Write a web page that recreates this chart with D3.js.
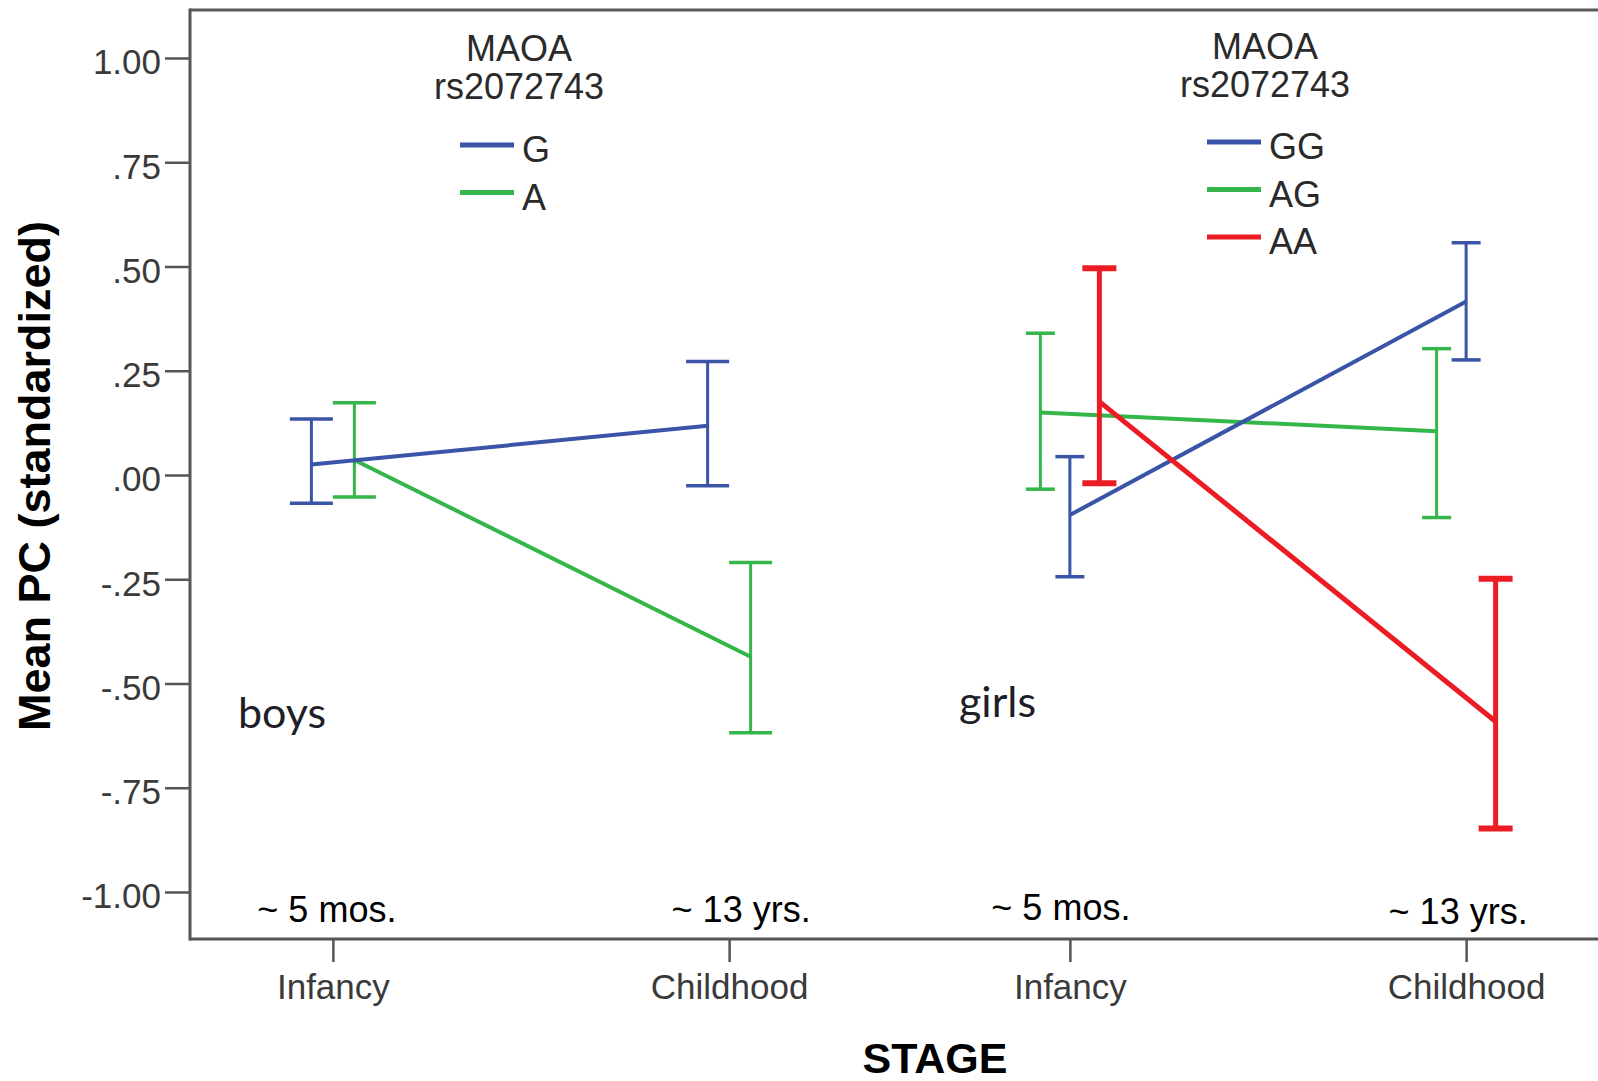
<!DOCTYPE html>
<html>
<head>
<meta charset="utf-8">
<script src="https://cdn.jsdelivr.net/npm/d3@7"></script>
<style>
  body { margin: 0; background: #fff; }
  svg { display: block; }
</style>
</head>
<body>
<script>
var w = 1598;
var h = 1081;

// categories
var panels = ["boys", "girls"];
var stages = ["Infancy", "Childhood"];
var ageLabels = ["~ 5 mos.", "~ 13 yrs."];
var yTicks = [1, 0.75, 0.5, 0.25, 0, -0.25, -0.5, -0.75, -1];
var boysGenotypes = ["G", "A"];          // plotted left -> right
var girlsGenotypes = ["AG", "GG", "AA"]; // plotted left -> right
var girlsLegend = ["GG", "AG", "AA"];

// means and error bar ends, [Infancy, Childhood]
var boysGMean = [0.025, 0.118];
var boysGLow = [-0.068, -0.026];
var boysGHigh = [0.134, 0.272];

var boysAMean = [0.036, -0.436];
var boysALow = [-0.053, -0.618];
var boysAHigh = [0.173, -0.21];

var girlsGGMean = [-0.096, 0.416];
var girlsGGLow = [-0.244, 0.276];
var girlsGGHigh = [0.044, 0.557];

var girlsAGMean = [0.150, 0.105];
var girlsAGLow = [-0.034, -0.102];
var girlsAGHigh = [0.34, 0.303];

var girlsAAMean = [0.176, -0.591];
var girlsAALow = [-0.02, -0.848];
var girlsAAHigh = [0.496, -0.249];

var series = [
    {panel: "boys", key: "A", mean: boysAMean, low: boysALow, high: boysAHigh},
    {panel: "boys", key: "G", mean: boysGMean, low: boysGLow, high: boysGHigh},
    {panel: "girls", key: "AG", mean: girlsAGMean, low: girlsAGLow, high: girlsAGHigh},
    {panel: "girls", key: "GG", mean: girlsGGMean, low: girlsGGLow, high: girlsGGHigh},
    {panel: "girls", key: "AA", mean: girlsAAMean, low: girlsAALow, high: girlsAAHigh}
];

var colors = {G: "#3a54a7", GG: "#3a54a7", A: "#34b64b", AG: "#34b64b", AA: "#ec1c24"};
var font = "'Liberation Sans', Arial, sans-serif";

var svg = d3.select("body").append("svg")
    .attr("width", w)
    .attr("height", h);

var plotLeft = 190, plotTop = 10, plotBottom = 939;

var y = d3.scaleLinear()
    .domain([-1, 1])
    .range([892, 58]);

var xPanel = d3.scaleBand()
    .domain(panels)
    .range([162.5, 1636.5]);

var xStage = d3.scalePoint()
    .domain(stages)
    .range([0, xPanel.bandwidth()])
    .padding(0.43);

var dodge = {
    boys: d3.scalePoint().domain(boysGenotypes).range([-21.5, 21.5]),
    girls: d3.scalePoint().domain(girlsGenotypes).range([-29.5, 29.5])
};
var capHalf = {boys: 21.5, girls: 14.5};

function xAt(panel, stage, key) {
    return xPanel(panel) + xStage(stage) + dodge[panel](key);
}

// frame
svg.append("line")
    .attr("x1", plotLeft).attr("x2", w)
    .attr("y1", plotTop).attr("y2", plotTop)
    .attr("stroke", "#5a5a5a").attr("stroke-width", 3);
svg.append("line")
    .attr("x1", plotLeft).attr("x2", w)
    .attr("y1", plotBottom).attr("y2", plotBottom)
    .attr("stroke", "#555").attr("stroke-width", 3);
svg.append("line")
    .attr("x1", plotLeft).attr("x2", plotLeft)
    .attr("y1", plotTop - 1.5).attr("y2", plotBottom + 1.5)
    .attr("stroke", "#555").attr("stroke-width", 3);

// y axis
var yAxis = d3.axisLeft(y)
    .tickValues(yTicks)
    .tickSize(25)
    .tickSizeOuter(0)
    .tickPadding(4)
    .tickFormat(function(d) {
        var s = d3.format(".2f")(d).replace("\u2212", "-");
        return Math.abs(d) < 1 ? s.replace("0.", ".") : s;
    });

var gy = svg.append("g")
    .attr("transform", "translate(" + plotLeft + ",0)")
    .call(yAxis);
gy.select(".domain").remove();
gy.selectAll(".tick line").attr("stroke", "#555").attr("stroke-width", 2.5);
gy.selectAll(".tick text")
    .attr("dy", "0.45em")
    .attr("fill", "#3a3a3a")
    .style("font-family", font)
    .style("font-size", "35px");

// x axes, one per panel
panels.forEach(function(p) {
    var gx = svg.append("g")
        .attr("transform", "translate(" + xPanel(p) + "," + plotBottom + ")")
        .call(d3.axisBottom(xStage).tickSize(23).tickSizeOuter(0).tickPadding(12));
    gx.select(".domain").remove();
    gx.selectAll(".tick line").attr("stroke", "#555").attr("stroke-width", 2.5);
    gx.selectAll(".tick text")
        .attr("fill", "#3a3a3a")
        .style("font-family", font)
        .style("font-size", "35px");
});

// age notes above the x axis
var ageDx = {boys: [-6, 12], girls: [-9, -8]};
var ageY = {boys: [922, 922], girls: [920, 924]};
panels.forEach(function(p) {
    svg.selectAll(null)
        .data(stages)
        .enter()
        .append("text")
        .text(function(d, i) { return ageLabels[i]; })
        .attr("x", function(d, i) { return xPanel(p) + xStage(d) + ageDx[p][i]; })
        .attr("y", function(d, i) { return ageY[p][i]; })
        .attr("text-anchor", "middle")
        .attr("font-family", font)
        .attr("font-size", "36px")
        .attr("fill", "#000");
});

// series: lines and error bars
var line = d3.line()
    .x(function(d) { return d.x; })
    .y(function(d) { return y(d.mean); });

series.forEach(function(s) {
    var pts = stages.map(function(st, i) {
        return {x: xAt(s.panel, st, s.key), mean: s.mean[i], low: s.low[i], high: s.high[i]};
    });
    var isRed = s.key === "AA";
    var g = svg.append("g");
    var half = isRed ? 17 : capHalf[s.panel];

    g.append("path")
        .datum(pts)
        .attr("d", line)
        .attr("fill", "none")
        .attr("stroke", colors[s.key])
        .attr("stroke-width", isRed ? 5 : 4);

    g.selectAll(".bar")
        .data(pts)
        .enter()
        .append("line")
        .attr("class", "bar")
        .attr("x1", function(d) { return d.x; })
        .attr("x2", function(d) { return d.x; })
        .attr("y1", function(d) { return y(d.low); })
        .attr("y2", function(d) { return y(d.high); })
        .attr("stroke", colors[s.key])
        .attr("stroke-width", isRed ? 5 : 3);

    ["low", "high"].forEach(function(end) {
        g.selectAll(".cap-" + end)
            .data(pts)
            .enter()
            .append("line")
            .attr("class", "cap-" + end)
            .attr("x1", function(d) { return d.x - half; })
            .attr("x2", function(d) { return d.x + half; })
            .attr("y1", function(d) { return y(d[end]); })
            .attr("y2", function(d) { return y(d[end]); })
            .attr("stroke", colors[s.key])
            .attr("stroke-width", isRed ? 6 : 3.5);
    });
});

// legends
var legends = [
    {cx: 519, t1: 61, t2: 99, lx: 460, rows: boysGenotypes, ry: 145},
    {cx: 1265, t1: 59, t2: 97, lx: 1207, rows: girlsLegend, ry: 142}
];

legends.forEach(function(L) {
    var g = svg.append("g")
        .attr("font-family", font)
        .attr("font-size", "36px")
        .attr("fill", "#2a2a2a");
    g.append("text").text("MAOA")
        .attr("x", L.cx).attr("y", L.t1).attr("text-anchor", "middle");
    g.append("text").text("rs2072743")
        .attr("x", L.cx).attr("y", L.t2).attr("text-anchor", "middle");

    var row = g.selectAll(".row")
        .data(L.rows)
        .enter()
        .append("g")
        .attr("transform", function(d, i) { return "translate(" + L.lx + "," + (L.ry + i * 47.5) + ")"; });
    row.append("line")
        .attr("x1", 0).attr("x2", 54)
        .attr("stroke", function(d) { return colors[d]; })
        .attr("stroke-width", 5);
    row.append("text")
        .text(function(d) { return d; })
        .attr("x", 62)
        .attr("y", 17);
});

// panel names
svg.append("text").text("boys")
    .attr("x", 238).attr("y", 728)
    .attr("font-family", "Lato, 'Open Sans', sans-serif")
    .attr("font-size", "43px")
    .attr("fill", "#1e1e28");
svg.append("text").text("girls")
    .attr("x", 959).attr("y", 717)
    .attr("font-family", "Lato, 'Open Sans', sans-serif")
    .attr("font-size", "43px")
    .attr("fill", "#1e1e28");

// axis titles
svg.append("text").text("STAGE")
    .attr("x", 935).attr("y", 1073)
    .attr("text-anchor", "middle")
    .attr("font-family", font)
    .attr("font-weight", "bold")
    .attr("font-size", "43px")
    .attr("fill", "#000");

svg.append("text").text("Mean PC (standardized)")
    .attr("transform", "translate(50,476) rotate(-90)")
    .attr("text-anchor", "middle")
    .attr("font-family", font)
    .attr("font-weight", "bold")
    .attr("font-size", "45px")
    .attr("fill", "#000");
</script>
</body>
</html>
